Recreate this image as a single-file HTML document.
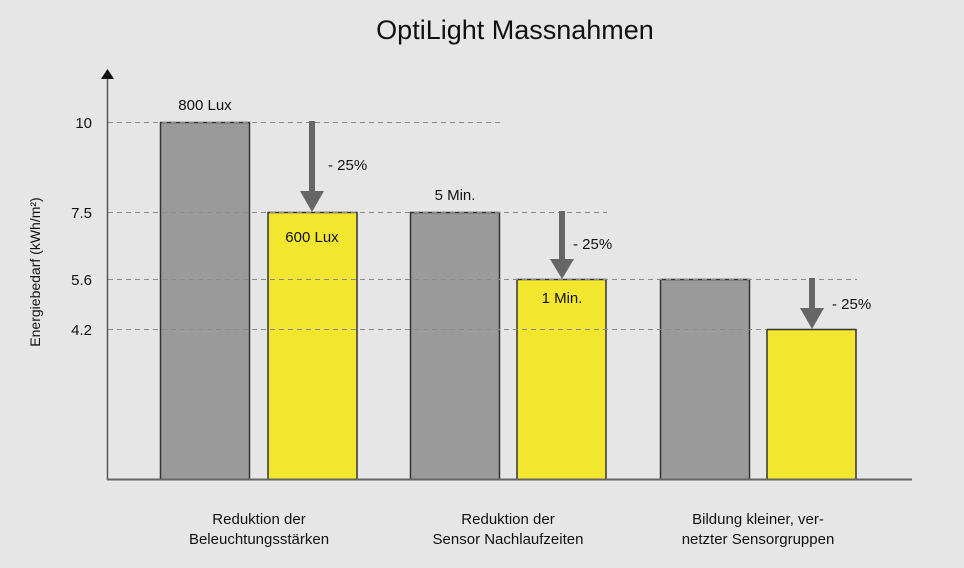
<!DOCTYPE html>
<html><head><meta charset="utf-8"><style>
html,body{margin:0;padding:0;background:#e6e6e6;}
svg{display:block;font-family:"Liberation Sans",sans-serif;}
</style></head><body>
<svg width="964" height="568" viewBox="0 0 964 568">
<rect width="964" height="568" fill="#e6e6e6"/>
<text x="515" y="39" font-size="27" text-anchor="middle" fill="#111">OptiLight Massnahmen</text>
<g stroke="#333" stroke-width="1.5">
<rect x="160.5" y="122.5" width="89" height="357" fill="#9a9a9a"/>
<rect x="268" y="212.5" width="89" height="267" fill="#f2e62e"/>
<rect x="410.5" y="212.5" width="89" height="267" fill="#9a9a9a"/>
<rect x="517" y="279.5" width="89" height="200" fill="#f2e62e"/>
<rect x="660.5" y="279.5" width="89" height="200" fill="#9a9a9a"/>
<rect x="767" y="329.5" width="89" height="150" fill="#f2e62e"/>
</g>
<g stroke="#8a8a8a" stroke-width="1" stroke-dasharray="5,4">
<line x1="108" y1="122.5" x2="500" y2="122.5"/>
<line x1="108" y1="212.5" x2="607" y2="212.5"/>
<line x1="108" y1="279.5" x2="857" y2="279.5"/>
<line x1="108" y1="329.5" x2="767" y2="329.5"/>
</g>
<line x1="107.5" y1="78" x2="107.5" y2="480" stroke="#555" stroke-width="1.5"/>
<polygon points="101,79 107.5,69 114,79" fill="#111"/>
<line x1="107" y1="479.5" x2="912" y2="479.5" stroke="#666" stroke-width="2"/>
<g fill="#666">
<rect x="309" y="121" width="6" height="72"/><polygon points="300,191 324,191 312,212"/>
<rect x="559" y="211" width="6" height="50"/><polygon points="550,259 574,259 562,279"/>
<rect x="809" y="278" width="6" height="32"/><polygon points="800,308 824,308 812,329"/>
</g>
<g font-size="15" fill="#111">
<text x="205" y="110" text-anchor="middle">800 Lux</text>
<text x="312" y="242" text-anchor="middle">600 Lux</text>
<text x="455" y="200" text-anchor="middle">5 Min.</text>
<text x="562" y="303" text-anchor="middle">1 Min.</text>
<text x="328" y="170">- 25%</text>
<text x="573" y="249">- 25%</text>
<text x="832" y="309">- 25%</text>
<text x="92" y="128" text-anchor="end">10</text>
<text x="92" y="218" text-anchor="end">7.5</text>
<text x="92" y="285" text-anchor="end">5.6</text>
<text x="92" y="335" text-anchor="end">4.2</text>
<text x="259" y="524" text-anchor="middle">Reduktion der</text>
<text x="259" y="544" text-anchor="middle">Beleuchtungsstärken</text>
<text x="508" y="524" text-anchor="middle">Reduktion der</text>
<text x="508" y="544" text-anchor="middle">Sensor Nachlaufzeiten</text>
<text x="758" y="524" text-anchor="middle">Bildung kleiner, ver-</text>
<text x="758" y="544" text-anchor="middle">netzter Sensorgruppen</text>
<text transform="translate(40,272) rotate(-90)" text-anchor="middle" font-size="14">Energiebedarf (kWh/m²)</text>
</g>
</svg>
</body></html>
